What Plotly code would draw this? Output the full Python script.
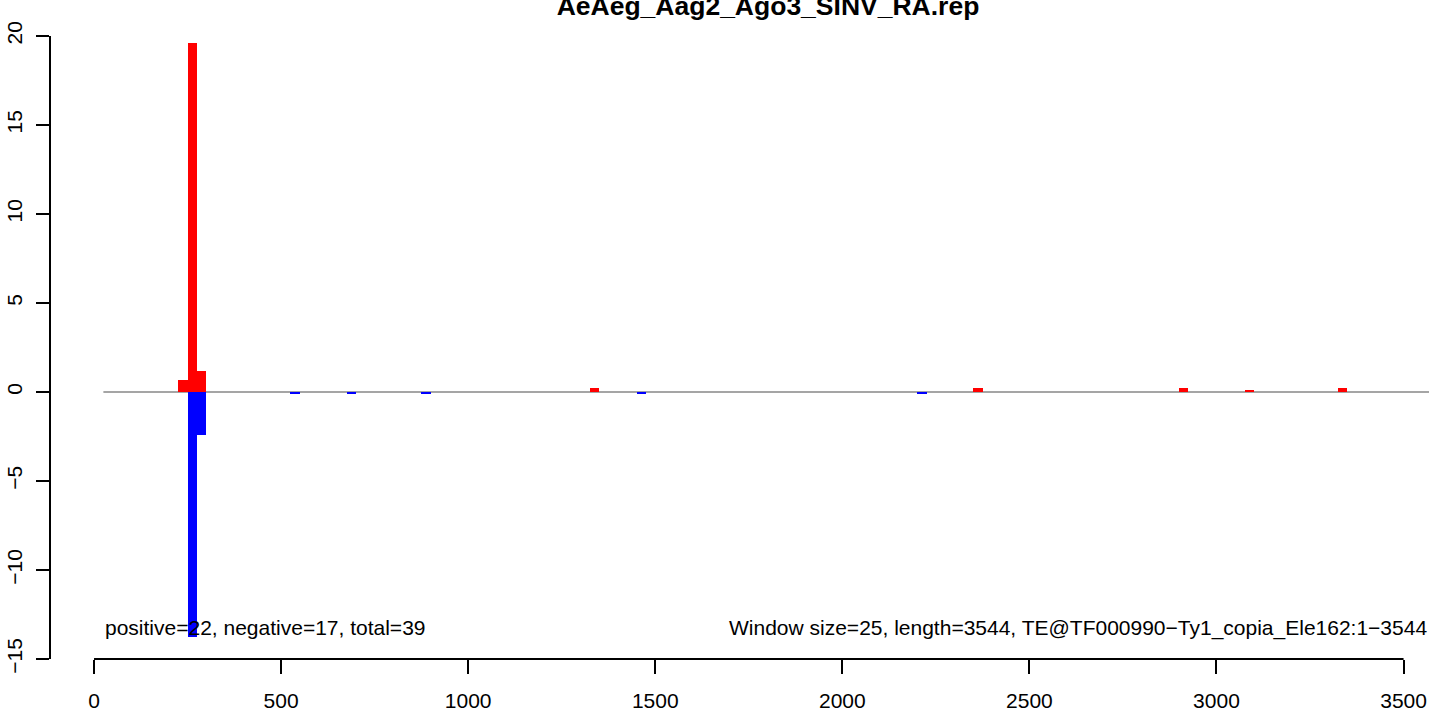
import plotly.graph_objects as go

# ---- data ----
WINDOW = 25
LENGTH = 3544
TITLE = "AeAeg_Aag2_Ago3_SINV_RA.rep"
LEFT_NOTE = "positive=22, negative=17, total=39"
RIGHT_NOTE = "Window size=25, length=3544, TE@TF000990\u2212Ty1_copia_Ele162:1\u22123544"

pos_starts = [225, 250, 275, 1325, 2350, 2900, 3075, 3325]
pos_values = [0.65, 19.6, 1.2, 0.22, 0.22, 0.22, 0.11, 0.22]
neg_starts = [250, 275, 525, 675, 875, 1450, 2200]
neg_values = [-13.75, -2.4, -0.11, -0.11, -0.11, -0.11, -0.11]

x_ticks = [0, 500, 1000, 1500, 2000, 2500, 3000, 3500]
y_ticks = [-15, -10, -5, 0, 5, 10, 15, 20]

FONT = "Liberation Sans, Arial, Helvetica, sans-serif"

pos_centers = [s + WINDOW / 2 for s in pos_starts]
neg_centers = [s + WINDOW / 2 for s in neg_starts]

fig = go.Figure()
fig.add_trace(go.Bar(x=pos_centers, y=pos_values, width=WINDOW,
                     marker=dict(color="#ff0000", line=dict(width=0))))
fig.add_trace(go.Bar(x=neg_centers, y=neg_values, width=WINDOW,
                     marker=dict(color="#0000ff", line=dict(width=0))))

fig.update_layout(
    width=1429, height=712,
    margin=dict(l=51, r=0, t=36, b=47),
    plot_bgcolor="white", paper_bgcolor="white",
    showlegend=False, barmode="overlay", bargap=0,
    font=dict(family=FONT, size=21, color="black"),
    title=dict(text=TITLE, x=768 / 1429, xanchor="center", xref="container",
               y=1 - 5.5 / 712, yanchor="middle", yref="container",
               font=dict(family=FONT, size=26.5, color="black", weight="bold")),
    xaxis=dict(range=[-115, 3568], tickvals=x_ticks, ticktext=[str(v) for v in x_ticks],
               ticks="outside", ticklen=14, tickwidth=2, tickcolor="black",
               ticklabelstandoff=9,
               showgrid=False, zeroline=False, showline=False,
               tickfont=dict(family=FONT, size=21, color="black")),
    yaxis=dict(range=[-15, 20], tickvals=y_ticks,
               ticks="outside", ticklen=13, tickwidth=2, tickcolor="black",
               ticklabelstandoff=6,
               showgrid=False, zeroline=False, showline=True, linecolor="black", linewidth=2,
               tickangle=-90, tickfont=dict(family=FONT, size=21, color="black")),
    shapes=[
        dict(type="line", xref="x", yref="y", x0=WINDOW, x1=LENGTH + WINDOW, y0=0, y1=0,
             layer="below", line=dict(color="#a5a5a5", width=2)),
        dict(type="line", xref="x", yref="paper", x0=x_ticks[0], x1=x_ticks[-1],
             y0=0, y1=0, line=dict(color="black", width=2)),
    ],
    annotations=[
        dict(text=LEFT_NOTE, x=WINDOW, y=-13.25, xref="x", yref="y", xanchor="left",
             yanchor="middle", showarrow=False, font=dict(family=FONT, size=21, color="black")),
        dict(text=RIGHT_NOTE, x=3568, y=-13.25, xref="x", yref="y", xanchor="right",
             yanchor="middle", showarrow=False, font=dict(family=FONT, size=21, color="black")),
    ],
)

fig.write_html("out.html", config={"displayModeBar": False},
               post_script="document.body.style.margin='0';document.body.style.overflow='hidden';")
